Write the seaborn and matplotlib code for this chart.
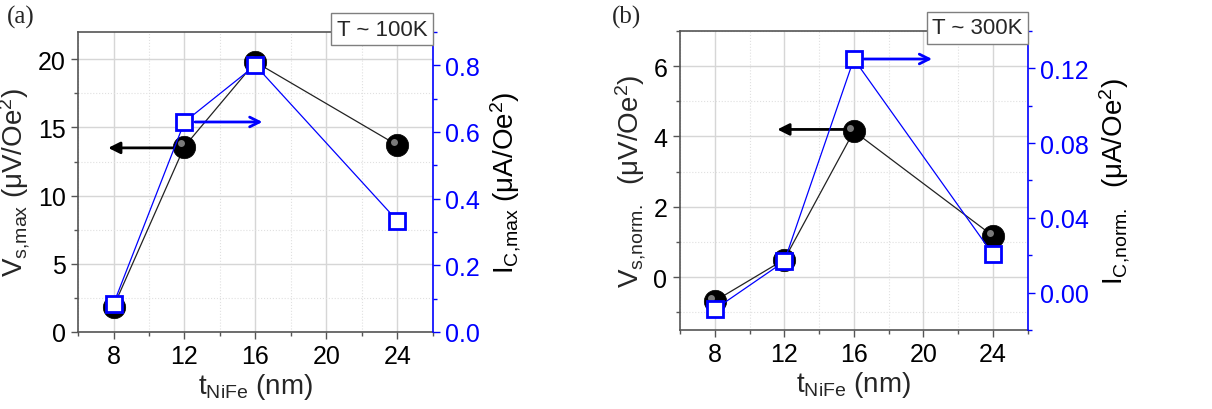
import matplotlib
matplotlib.use("Agg")
import matplotlib.pyplot as plt
import matplotlib.ticker as mticker
import matplotlib.transforms as mtrans
import seaborn as sns

# ── Data ─────────────────────────────────────────────────────────────────────
t_nife = [8, 12, 16, 24]

vs_100k = [1.85, 13.6, 19.8, 13.7]       # V_s,max  (uV/Oe^2)
ic_100k = [0.084, 0.63, 0.80, 0.334]     # I_C,max  (uA/Oe^2)

vs_300k = [-0.68, 0.5, 4.15, 1.17]       # V_s,norm.
ic_300k = [-0.009, 0.0166, 0.125, 0.0204]  # I_C,norm.

x_ticks = [8, 12, 16, 20, 24]

BLUE = "#0000ff"
SPINE = "#555555"
TICK_FS = 18
LAB_FS = 20

sns.set_style("ticks")
plt.rcParams["font.family"] = ["Liberation Sans", "DejaVu Sans"]
plt.rcParams["mathtext.default"] = "regular"

fig = plt.figure(figsize=(12.12, 4.10), dpi=100)
ax_a = fig.add_axes([0.0644, 0.188, 0.2926, 0.7315])
ax_b = fig.add_axes([0.561, 0.193, 0.287, 0.729])


def sphere(ax, x, y):
    # black ball with a soft highlight, like the Origin "sphere" symbol
    sns.scatterplot(x=x, y=y, ax=ax, s=260, color="black", edgecolor="black",
                    linewidth=0.5, zorder=4, legend=False)
    off = mtrans.ScaledTranslation(-2.5 / 72, 2.5 / 72, ax.figure.dpi_scale_trans)
    ax.plot(x, y, "o", ms=5, color="#9a9a9a", alpha=0.8, mec="none",
            transform=ax.transData + off, zorder=5)


def panel(ax, vs, ic, ylim_l, yticks_l, ylim_r, yticks_r, fmt_r,
          ylab_l, ylab_r, temp, arrow_l, arrow_r):
    sns.lineplot(x=t_nife, y=vs, ax=ax, color="#222222", linewidth=0.9,
                 zorder=3, legend=False)
    sphere(ax, t_nife, vs)

    ax.set_xlim(6, 26)
    ax.set_ylim(*ylim_l)
    ax.set_xticks(x_ticks)
    ax.set_yticks(yticks_l)
    ax.xaxis.set_minor_locator(mticker.MultipleLocator(2))
    ax.yaxis.set_minor_locator(mticker.AutoMinorLocator(2))
    ax.grid(which="major", color="#d6d6d6", linewidth=1.0)
    ax.grid(which="minor", color="#e0e0e0", linewidth=0.8, linestyle=":")
    ax.set_axisbelow(True)
    ax.tick_params(which="both", direction="out", labelsize=TICK_FS, colors="black")
    ax.tick_params(which="major", length=5, width=1, color=SPINE, pad=4)
    ax.tick_params(which="minor", length=3, width=1, color=SPINE)
    for s in ["left", "bottom", "top"]:
        ax.spines[s].set_color(SPINE)
        ax.spines[s].set_linewidth(1.2)
    ax.spines["right"].set_visible(False)
    ax.set_xlabel(r"t$_{NiFe}$ (nm)", fontsize=LAB_FS, labelpad=2)
    ax.set_ylabel(ylab_l, fontsize=LAB_FS, labelpad=4)

    ax2 = ax.twinx()
    sns.lineplot(x=t_nife, y=ic, ax=ax2, color=BLUE, linewidth=0.9,
                 zorder=3, legend=False)
    ax2.plot(t_nife, ic, "s", ms=11, mfc="white", mec=BLUE, mew=2, zorder=4)
    ax2.set_ylim(*ylim_r)
    ax2.set_yticks(yticks_r)
    ax2.yaxis.set_major_formatter(mticker.FormatStrFormatter(fmt_r))
    ax2.yaxis.set_minor_locator(mticker.AutoMinorLocator(2))
    ax2.tick_params(which="both", direction="out", labelsize=TICK_FS,
                    colors=BLUE, labelcolor=BLUE)
    ax2.tick_params(which="major", length=5, width=1, pad=4)
    ax2.tick_params(which="minor", length=3, width=1)
    for s in ["left", "bottom", "top"]:
        ax2.spines[s].set_visible(False)
    ax2.spines["right"].set_color(BLUE)
    ax2.spines["right"].set_linewidth(1.2)
    ax2.set_ylabel(ylab_r, fontsize=LAB_FS, labelpad=6, color="black")

    # axis-pointer arrows
    (x0, x1, y) = arrow_l
    ax.annotate("", xy=(x1, y), xytext=(x0, y),
                arrowprops=dict(arrowstyle="-|>,head_length=0.7,head_width=0.35",
                                color="black", lw=2, shrinkA=0, shrinkB=0),
                zorder=6)
    (x0, x1, y) = arrow_r
    ax2.annotate("", xy=(x1, y), xytext=(x0, y),
                 arrowprops=dict(arrowstyle="->,head_length=0.7,head_width=0.35",
                                 color=BLUE, lw=2, shrinkA=0, shrinkB=0),
                 zorder=6)

    ax2.text(0.985, 1.01, temp, transform=ax2.transAxes, ha="right", va="center",
             fontsize=16, zorder=10,
             bbox=dict(boxstyle="square,pad=0.25", facecolor="white",
                       edgecolor="#7f7f7f", linewidth=1.0))
    return ax2


panel(ax_a, vs_100k, ic_100k,
      (0, 22), [0, 5, 10, 15, 20],
      (0, 0.9), [0.0, 0.2, 0.4, 0.6, 0.8], "%.1f",
      r"V$_{s{,}max}$ ($\mu$V/Oe$^2$)", r"I$_{C{,}max}$ ($\mu$A/Oe$^2$)",
      "T ~ 100K", (11.6, 7.7, 13.5), (12.6, 16.4, 0.63))

panel(ax_b, vs_300k, ic_300k,
      (-1.5, 7), [0, 2, 4, 6],
      (-0.02, 0.14), [0.00, 0.04, 0.08, 0.12], "%.2f",
      r"V$_{s{,}norm.}$  ($\mu$V/Oe$^2$)", r"I$_{C{,}norm.}$  ($\mu$A/Oe$^2$)",
      "T ~ 300K", (15.5, 11.6, 4.2), (16.6, 20.5, 0.125))

for x, lab in [(0.006, "(a)"), (0.505, "(b)")]:
    fig.text(x, 0.985, lab, ha="left", va="top", fontsize=18,
             family=["Liberation Serif", "DejaVu Serif"])

fig.savefig("out.png", dpi=100)
